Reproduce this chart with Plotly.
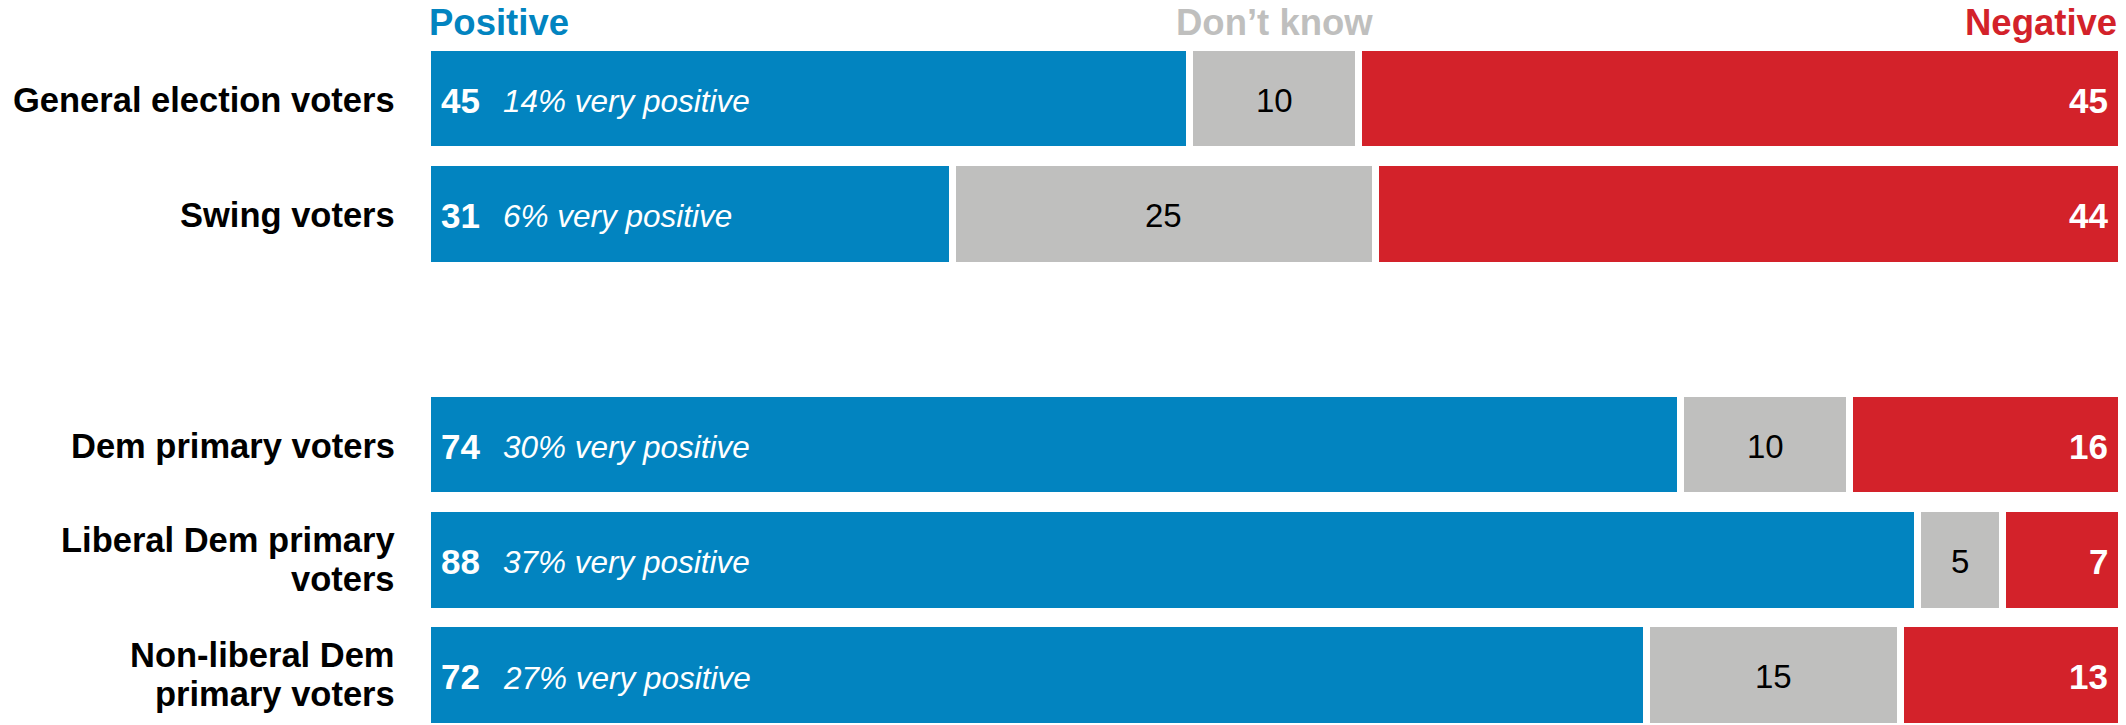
import plotly.graph_objects as go

# ---- data ----
groups = ["General election voters", "Swing voters", "Dem primary voters",
          "Liberal Dem primary voters", "Non-liberal Dem primary voters"]
label_lines = [["General election voters"], ["Swing voters"], ["Dem primary voters"],
               ["Liberal Dem primary", "voters"], ["Non-liberal Dem", "primary voters"]]
positive = [45, 31, 74, 88, 72]
dont_know = [10, 25, 10, 5, 15]
negative = [45, 44, 16, 7, 13]
very_positive = [14, 6, 30, 37, 27]
series_names = ["Positive", "Don\u2019t know", "Negative"]

# ---- style ----
BLUE = "#0284C0"
GRAY = "#BFBFBE"
RED = "#D3222A"
FONT = "Liberation Sans, Arial, sans-serif"
W, H = 2126, 725
ML, MR, MT, MB = 427, 5, 41, 0
SPACER = " "
cat_order = [groups[0], groups[1], SPACER, groups[2], groups[3], groups[4]]

fig = go.Figure()
for name, vals, col in zip(series_names, [positive, dont_know, negative], [BLUE, GRAY, RED]):
    fig.add_trace(go.Bar(
        name=name, x=vals, y=groups, orientation="h",
        marker=dict(color=col, line=dict(color="white", width=7)),
        width=0.89, hoverinfo="skip", showlegend=False,
    ))

ann = []
for g, lines, p, d, n, vp in zip(groups, label_lines, positive, dont_know, negative, very_positive):
    # category labels
    if len(lines) == 1:
        offs = [-1.5]
    else:
        offs = [20, -19]
    for ln, o in zip(lines, offs):
        ann.append(dict(x=0, y=g, xref="x", yref="y", text=f"<b>{ln}</b>",
                        xanchor="right", yanchor="middle", xshift=-30, yshift=o,
                        showarrow=False, font=dict(family=FONT, size=34.5, color="black")))
    # positive number
    ann.append(dict(x=0, y=g, xref="x", yref="y", text=f"<b>{p}</b>",
                    xanchor="left", yanchor="middle", xshift=12, yshift=-1.5,
                    showarrow=False, font=dict(family=FONT, size=35, color="white")))
    ann.append(dict(x=0, y=g, xref="x", yref="y", text=f"<i>{vp}% very positive</i>",
                    xanchor="left", yanchor="middle", xshift=74, yshift=-2.5,
                    showarrow=False, font=dict(family=FONT, size=31.5, color="white")))
    # don't know
    ann.append(dict(x=p + d / 2, y=g, xref="x", yref="y", text=f"{d}",
                    xanchor="center", yanchor="middle", yshift=-1.5,
                    showarrow=False, font=dict(family=FONT, size=33, color="black")))
    # negative
    ann.append(dict(x=100, y=g, xref="x", yref="y", text=f"<b>{n}</b>",
                    xanchor="right", yanchor="middle", xshift=-11, yshift=-1.5,
                    showarrow=False, font=dict(family=FONT, size=35, color="white")))

head_y = 1 + (MT - 22.5) / (H - MT - MB)
ann.append(dict(x=0, y=head_y, xref="x", yref="paper", text=f"<b>{series_names[0]}</b>",
                xanchor="left", yanchor="middle", xshift=0, showarrow=False,
                font=dict(family=FONT, size=36.5, color=BLUE)))
ann.append(dict(x=50, y=head_y, xref="x", yref="paper", text=f"<b>{series_names[1]}</b>",
                xanchor="center", yanchor="middle", showarrow=False,
                font=dict(family=FONT, size=36.5, color=GRAY)))
ann.append(dict(x=100, y=head_y, xref="x", yref="paper", text=f"<b>{series_names[2]}</b>",
                xanchor="right", yanchor="middle", xshift=-2, showarrow=False,
                font=dict(family=FONT, size=36.5, color=RED)))

fig.update_layout(
    width=W, height=H, barmode="stack", bargap=0,
    margin=dict(l=ML, r=MR, t=MT, b=MB, pad=0),
    paper_bgcolor="white", plot_bgcolor="white",
    annotations=ann,
    xaxis=dict(range=[0, 100], visible=False, fixedrange=True),
    yaxis=dict(type="category", categoryorder="array", categoryarray=cat_order,
               range=[5.431, -0.5], showticklabels=False, showgrid=False,
               zeroline=False, showline=False, ticks="", fixedrange=True),
)

fig.write_html("out.html", config={"displayModeBar": False, "staticPlot": True},
               post_script="document.body.style.margin='0px';")
